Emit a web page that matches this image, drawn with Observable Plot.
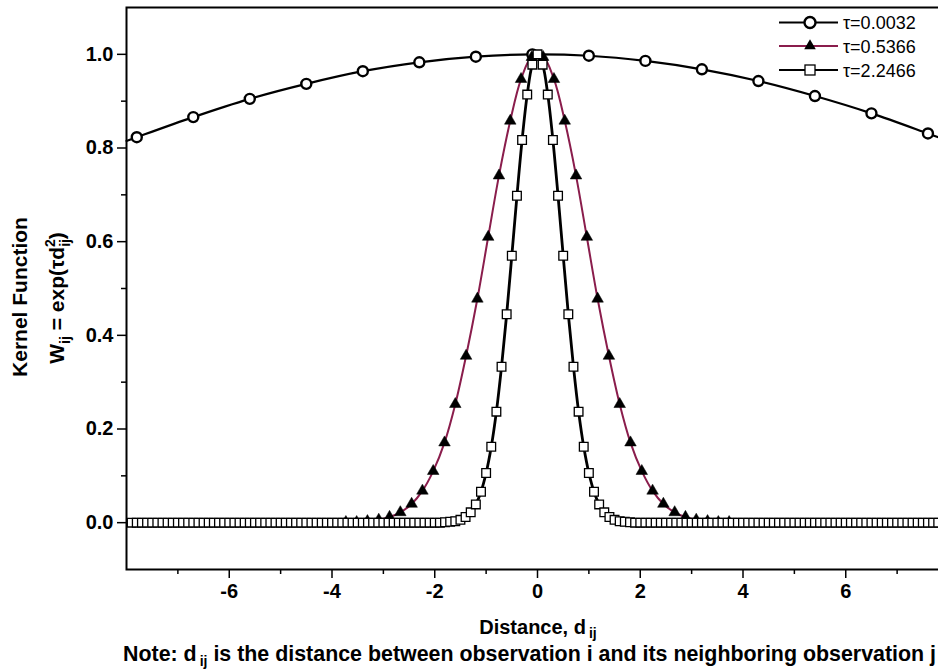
<!DOCTYPE html>
<html>
<head>
<meta charset="utf-8">
<script src="https://cdn.jsdelivr.net/npm/d3@7"></script>
<script src="https://cdn.jsdelivr.net/npm/@observablehq/plot@0.6"></script>
<style>
  html, body { margin: 0; padding: 0; background: white; overflow: hidden; }
  svg { max-width: none !important; display: block; }
  g[aria-label="x-axis tick label"], g[aria-label="y-axis tick label"] { font-size: 20px; font-weight: bold; }
</style>
</head>
<body>
<div id="chart"></div>
<script>
// ---- data ----
const seriesNames = ["τ=0.0032", "τ=0.5366", "τ=2.2466"];

// tau = 0.0032 (circles)
const circX = [-7.8, -6.7, -5.6, -4.5, -3.4, -2.3, -1.2, -0.1, 1.0, 2.1, 3.2, 4.3, 5.4, 6.5, 7.6];
const circY = [0.823, 0.866, 0.905, 0.937, 0.964, 0.983, 0.995, 1.000, 0.997, 0.986, 0.968, 0.943, 0.911, 0.874, 0.831];
const circEdgeX = [-8, 8];
const circEdgeY = [0.815, 0.815];

// tau = 0.5366 (triangles)
const triX = [-3.73, -3.52, -3.31, -3.09, -2.88, -2.67, -2.45, -2.24, -2.03, -1.81, -1.60, -1.39, -1.17, -0.96, -0.75, -0.53, -0.32, -0.11,
               0.11, 0.32, 0.53, 0.75, 0.96, 1.17, 1.39, 1.60, 1.81, 2.03, 2.24, 2.45, 2.67, 2.88, 3.09, 3.31, 3.52, 3.73];
const triY = [0.001, 0.001, 0.003, 0.006, 0.012, 0.022, 0.040, 0.068, 0.110, 0.171, 0.253, 0.356, 0.478, 0.610, 0.741, 0.858, 0.947, 0.994,
              0.994, 0.947, 0.858, 0.741, 0.610, 0.478, 0.356, 0.253, 0.171, 0.110, 0.068, 0.040, 0.022, 0.012, 0.006, 0.003, 0.001, 0.001];

// tau = 2.2466 (squares)
const sqX = [
  -7.9, -7.8, -7.7, -7.6, -7.5, -7.4, -7.3, -7.2, -7.1, -7.0,
  -6.9, -6.8, -6.7, -6.6, -6.5, -6.4, -6.3, -6.2, -6.1, -6.0,
  -5.9, -5.8, -5.7, -5.6, -5.5, -5.4, -5.3, -5.2, -5.1, -5.0,
  -4.9, -4.8, -4.7, -4.6, -4.5, -4.4, -4.3, -4.2, -4.1, -4.0,
  -3.9, -3.8, -3.7, -3.6, -3.5, -3.4, -3.3, -3.2, -3.1, -3.0,
  -2.9, -2.8, -2.7, -2.6, -2.5, -2.4, -2.3, -2.2, -2.1, -2.0,
  -1.9, -1.8, -1.7, -1.6, -1.5, -1.4, -1.3, -1.2, -1.1, -1.0,
  -0.9, -0.8, -0.7, -0.6, -0.5, -0.4, -0.3, -0.2, -0.1, 0.0,
  0.1, 0.2, 0.3, 0.4, 0.5, 0.6, 0.7, 0.8, 0.9, 1.0,
  1.1, 1.2, 1.3, 1.4, 1.5, 1.6, 1.7, 1.8, 1.9, 2.0,
  2.1, 2.2, 2.3, 2.4, 2.5, 2.6, 2.7, 2.8, 2.9, 3.0,
  3.1, 3.2, 3.3, 3.4, 3.5, 3.6, 3.7, 3.8, 3.9, 4.0,
  4.1, 4.2, 4.3, 4.4, 4.5, 4.6, 4.7, 4.8, 4.9, 5.0,
  5.1, 5.2, 5.3, 5.4, 5.5, 5.6, 5.7, 5.8, 5.9, 6.0,
  6.1, 6.2, 6.3, 6.4, 6.5, 6.6, 6.7, 6.8, 6.9, 7.0,
  7.1, 7.2, 7.3, 7.4, 7.5, 7.6, 7.7, 7.8, 7.9
];
const sqY = [
  0, 0, 0, 0, 0, 0, 0, 0, 0, 0,
  0, 0, 0, 0, 0, 0, 0, 0, 0, 0,
  0, 0, 0, 0, 0, 0, 0, 0, 0, 0,
  0, 0, 0, 0, 0, 0, 0, 0, 0, 0,
  0, 0, 0, 0, 0, 0, 0, 0, 0, 0,
  0, 0, 0, 0, 0, 0, 0, 0, 0, 0,
  0, 0.001, 0.002, 0.003, 0.006, 0.012, 0.022, 0.039, 0.066, 0.106,
  0.162, 0.237, 0.333, 0.445, 0.570, 0.698, 0.817, 0.914, 0.978, 1.000,
  0.978, 0.914, 0.817, 0.698, 0.570, 0.445, 0.333, 0.237, 0.162, 0.106,
  0.066, 0.039, 0.022, 0.012, 0.006, 0.003, 0.002, 0.001, 0, 0,
  0, 0, 0, 0, 0, 0, 0, 0, 0, 0,
  0, 0, 0, 0, 0, 0, 0, 0, 0, 0,
  0, 0, 0, 0, 0, 0, 0, 0, 0, 0,
  0, 0, 0, 0, 0, 0, 0, 0, 0, 0,
  0, 0, 0, 0, 0, 0, 0, 0, 0, 0,
  0, 0, 0, 0, 0, 0, 0, 0, 0
];

// ticks
const xMajor = [-6, -4, -2, 0, 2, 4, 6];
const xMinor = [-7, -5, -3, -1, 1, 3, 5, 7];
const yMajor = [0, 0.2, 0.4, 0.6, 0.8, 1.0];
const yMinor = [0.1, 0.3, 0.5, 0.7, 0.9];

// ---- build tables ----
const circData = circX.map((x, i) => ({x, y: circY[i]}));
const circLine = [{x: circEdgeX[0], y: circEdgeY[0]}, ...circData, {x: circEdgeX[1], y: circEdgeY[1]}];
const triData = triX.map((x, i) => ({x, y: triY[i]}));
const sqData = sqX.map((x, i) => ({x, y: sqY[i]}));

const PURPLE = "#8a1d4c";

const chart = Plot.plot({
  width: 948,
  height: 672,
  marginLeft: 126,
  marginRight: 0,
  marginTop: 7,
  marginBottom: 103,
  style: {fontFamily: "'Liberation Sans', Arial, sans-serif", background: "white", overflow: "visible", maxWidth: "none"},
  x: {domain: [-8, 8], label: null},
  y: {domain: [-0.1, 1.1], label: null},
  marks: [
    Plot.axisX({ticks: xMinor, tickSize: 5, tickFormat: () => "", strokeWidth: 1.5, label: null}),
    Plot.axisX({ticks: xMajor, tickSize: 9, tickPadding: 5, tickFormat: d => String(d), strokeWidth: 1.5,
                fontSize: 20, fontWeight: "bold", fill: "black", label: null}),
    Plot.axisY({ticks: yMinor, tickSize: 5, tickFormat: () => "", strokeWidth: 1.5, label: null}),
    Plot.axisY({ticks: yMajor, tickSize: 9, tickPadding: 4, tickFormat: d3.format(".1f"), strokeWidth: 1.5,
                fontSize: 20, fontWeight: "bold", fill: "black", label: null}),
    Plot.line(circLine, {x: "x", y: "y", stroke: "black", strokeWidth: 2.2, curve: "catmull-rom"}),
    Plot.dot(circData, {x: "x", y: "y", r: 5, fill: "white", stroke: "black", strokeWidth: 2.4}),
    Plot.line(triData, {x: "x", y: "y", stroke: PURPLE, strokeWidth: 2, curve: "catmull-rom"}),
    Plot.dot(triData, {x: "x", y: "y", symbol: "triangle", r: 4.3, fill: "black", stroke: "black", strokeWidth: 0.5}),
    Plot.line(sqData, {x: "x", y: "y", stroke: "black", strokeWidth: 2.8, curve: "catmull-rom"}),
    Plot.dot(sqData, {x: "x", y: "y", symbol: "square", r: 4.9, fill: "white", stroke: "black", strokeWidth: 1.3}),
    Plot.frame({stroke: "black", strokeWidth: 2})
  ]
});

document.getElementById("chart").appendChild(chart);

// ---- legend & labels ----
const svg = d3.select(chart);
const FONT = "'Liberation Sans', Arial, sans-serif";

const leg = svg.append("g").attr("font-family", FONT).attr("font-size", 18).attr("text-anchor", "start");
const legRows = [22.5, 46, 70];
const legStroke = ["black", PURPLE, "black"];
legRows.forEach((yy, i) => {
  leg.append("line").attr("x1", 779).attr("x2", 838).attr("y1", yy).attr("y2", yy)
    .attr("stroke", legStroke[i]).attr("stroke-width", 2.2);
  if (i === 0) {
    leg.append("circle").attr("cx", 810).attr("cy", yy).attr("r", 5.5).attr("fill", "white").attr("stroke", "black").attr("stroke-width", 2.4);
  } else if (i === 1) {
    leg.append("path").attr("transform", `translate(810,${yy})`).attr("d", d3.symbol(d3.symbolTriangle, 58)()).attr("fill", "black");
  } else {
    leg.append("rect").attr("x", 805).attr("y", yy - 5).attr("width", 10).attr("height", 10).attr("fill", "white").attr("stroke", "black").attr("stroke-width", 1.3);
  }
  leg.append("text").attr("x", 843).attr("y", yy + 6.5).attr("fill", "black").attr("text-anchor", "start").text(seriesNames[i]);
});

// y labels
svg.append("text")
  .attr("transform", "translate(27,297) rotate(-90)")
  .attr("text-anchor", "middle").attr("font-family", FONT).attr("font-weight", "bold").attr("font-size", 21)
  .text("Kernel Function");

const yl2 = svg.append("text")
  .attr("transform", "translate(64,298) rotate(-90)")
  .attr("text-anchor", "middle").attr("font-family", FONT).attr("font-weight", "bold").attr("font-size", 21);
yl2.append("tspan").text("W");
yl2.append("tspan").attr("dy", 6).attr("font-size", 14).text("ij");
yl2.append("tspan").attr("dy", -6).text(" = exp(τd");
yl2.append("tspan").attr("dy", 6).attr("font-size", 14).text("ij");
yl2.append("tspan").attr("dx", -8).attr("dy", -15).attr("font-size", 14).text("2");
yl2.append("tspan").attr("dy", 9).text(")");

// x label
const xl = svg.append("text")
  .attr("x", 538).attr("y", 634)
  .attr("text-anchor", "middle").attr("font-family", FONT).attr("font-weight", "bold").attr("font-size", 20);
xl.append("tspan").text("Distance, d");
xl.append("tspan").attr("dx", 3).attr("dy", 4).attr("font-size", 14).text("ij");

// note
const note = svg.append("text")
  .attr("x", 123).attr("y", 661).attr("text-anchor", "start")
  .attr("font-family", FONT).attr("font-weight", "bold").attr("font-size", 21.4);
note.append("tspan").text("Note: d");
note.append("tspan").attr("dx", 3).attr("dy", 5).attr("font-size", 14).text("ij");
note.append("tspan").attr("dy", -5).text(" is the distance between observation i and its neighboring observation j");
</script>
</body>
</html>
